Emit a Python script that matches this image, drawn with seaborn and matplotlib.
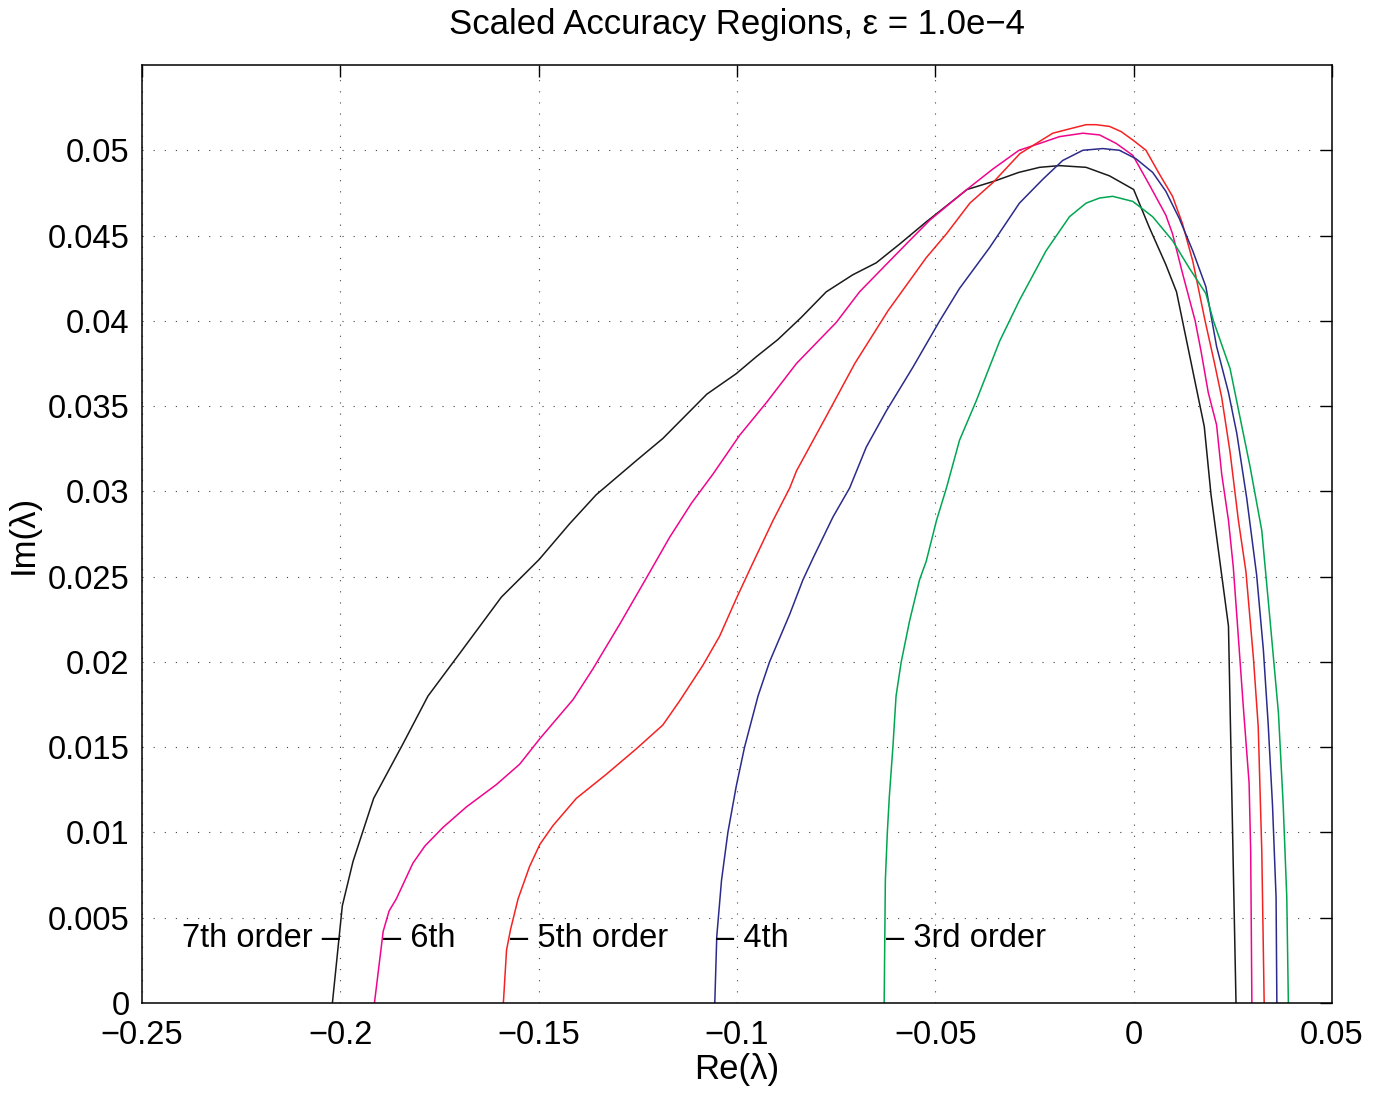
import numpy as np
import pandas as pd
import matplotlib
matplotlib.use("Agg")
import matplotlib.pyplot as plt
import seaborn as sns

# ---------------- data ----------------
x7 = [-0.2020, -0.1995, -0.1968, -0.1916, -0.1842, -0.1779, -0.1699, -0.1594, -0.1499,
      -0.1422, -0.1355, -0.1254, -0.1187, -0.1076, -0.1002, -0.0951, -0.0897, -0.0838,
      -0.0775, -0.0708, -0.0649, -0.0590, -0.0523, -0.0420, -0.0350, -0.0290, -0.0237,
      -0.0187, -0.0120, -0.0061, 0.0000, 0.0039, 0.0081, 0.0108, 0.0178, 0.0195, 0.0239,
      0.0258]
y7 = [0.0, 0.0057, 0.0083, 0.0120, 0.0152, 0.0180, 0.0205, 0.0238, 0.0260,
      0.0281, 0.0298, 0.0318, 0.0331, 0.0357, 0.0369, 0.0379, 0.0389, 0.0402,
      0.0417, 0.0427, 0.0434, 0.0445, 0.0458, 0.0477, 0.0482, 0.0487, 0.0490,
      0.0491, 0.0490, 0.0485, 0.0477, 0.0455, 0.0433, 0.0417, 0.0338, 0.0298, 0.0221,
      0.0]

x6 = [-0.1914, -0.1892, -0.1877, -0.1859, -0.1817, -0.1787, -0.1741, -0.1682, -0.1607,
      -0.1548, -0.1497, -0.1413, -0.1363, -0.1296, -0.1224, -0.1170, -0.1115, -0.1061,
      -0.0993, -0.0926, -0.0850, -0.0750, -0.0691, -0.0624, -0.0565, -0.0514, -0.0426,
      -0.0355, -0.0289, -0.0237, -0.0187, -0.0128, -0.0086, -0.0044, -0.0002, 0.0039,
      0.0081, 0.0098, 0.0123, 0.0155, 0.0170, 0.0188, 0.0209, 0.0222, 0.0239, 0.0251,
      0.0261, 0.0276, 0.0291, 0.0295, 0.0298]
y6 = [0.0, 0.0042, 0.0054, 0.0061, 0.0082, 0.0092, 0.0103, 0.0115, 0.0128,
      0.0140, 0.0155, 0.0178, 0.0196, 0.0222, 0.0251, 0.0273, 0.0293, 0.0310,
      0.0333, 0.0352, 0.0375, 0.0399, 0.0417, 0.0433, 0.0447, 0.0459, 0.0476,
      0.0489, 0.0500, 0.0504, 0.0508, 0.0510, 0.0509, 0.0504, 0.0497, 0.0480,
      0.0462, 0.0451, 0.0428, 0.0400, 0.0382, 0.0358, 0.0339, 0.0310, 0.0283, 0.0256,
      0.0224, 0.0175, 0.0129, 0.0089, 0.0]

x5 = [-0.1589, -0.1581, -0.1571, -0.1552, -0.1523, -0.1497, -0.1464, -0.1405, -0.1330,
      -0.1254, -0.1187, -0.1145, -0.1086, -0.1044, -0.1002, -0.0960, -0.0909, -0.0867,
      -0.0850, -0.0775, -0.0703, -0.0619, -0.0523, -0.0472, -0.0413, -0.0355, -0.0287,
      -0.0204, -0.0154, -0.0120, -0.0095, -0.0061, -0.0032, -0.0002, 0.0031, 0.0065,
      0.0098, 0.0123, 0.0149, 0.0180, 0.0203, 0.0222, 0.0243, 0.0264, 0.0283, 0.0302,
      0.0314, 0.0323, 0.0329]
y5 = [0.0, 0.0031, 0.0043, 0.0061, 0.0080, 0.0093, 0.0104, 0.0120, 0.0134,
      0.0149, 0.0163, 0.0177, 0.0198, 0.0215, 0.0237, 0.0258, 0.0283, 0.0302,
      0.0312, 0.0344, 0.0375, 0.0406, 0.0437, 0.0451, 0.0469, 0.0481, 0.0498,
      0.0510, 0.0513, 0.0515, 0.0515, 0.0514, 0.0511, 0.0506, 0.0500, 0.0486,
      0.0473, 0.0457, 0.0435, 0.0400, 0.0376, 0.0355, 0.0323, 0.0283, 0.0253, 0.0202,
      0.0162, 0.0089, 0.0]

x4 = [-0.1056, -0.1051, -0.1039, -0.1023, -0.1002, -0.0981, -0.0947, -0.0918, -0.0867,
      -0.0834, -0.0808, -0.0758, -0.0716, -0.0674, -0.0624, -0.0556, -0.0489, -0.0439,
      -0.0363, -0.0288, -0.0229, -0.0179, -0.0128, -0.0078, -0.0036, 0.0006, 0.0048,
      0.0081, 0.0115, 0.0149, 0.0182, 0.0209, 0.0239, 0.0260, 0.0285, 0.0310, 0.0327,
      0.0339, 0.0350, 0.0359, 0.0361]
y4 = [0.0, 0.0039, 0.0072, 0.0100, 0.0127, 0.0150, 0.0180, 0.0200, 0.0228,
      0.0248, 0.0261, 0.0285, 0.0302, 0.0326, 0.0347, 0.0373, 0.0400, 0.0419,
      0.0443, 0.0469, 0.0483, 0.0494, 0.0500, 0.0501, 0.0500, 0.0495, 0.0487,
      0.0476, 0.0460, 0.0441, 0.0420, 0.0385, 0.0358, 0.0334, 0.0296, 0.0251, 0.0207,
      0.0164, 0.0116, 0.0062, 0.0]

x3 = [-0.0629, -0.0626, -0.0621, -0.0616, -0.0607, -0.0599, -0.0586, -0.0565, -0.0540,
      -0.0523, -0.0497, -0.0472, -0.0439, -0.0397, -0.0338, -0.0288, -0.0221, -0.0162,
      -0.0120, -0.0086, -0.0053, -0.0002, 0.0048, 0.0098, 0.0140, 0.0182, 0.0201,
      0.0243, 0.0293, 0.0323, 0.0344, 0.0365, 0.0377, 0.0386, 0.0390]
y3 = [0.0, 0.0072, 0.0100, 0.0121, 0.0150, 0.0180, 0.0200, 0.0224, 0.0248,
      0.0259, 0.0283, 0.0302, 0.0330, 0.0353, 0.0388, 0.0412, 0.0441, 0.0461,
      0.0469, 0.0472, 0.0473, 0.0470, 0.0461, 0.0447, 0.0431, 0.0416, 0.0400,
      0.0372, 0.0315, 0.0277, 0.0224, 0.0170, 0.0116, 0.0062, 0.0]

orders = ["7th", "6th", "5th", "4th", "3rd"]
label_texts = ["7th order \u2013", "\u2013 6th", "\u2013 5th order", "\u2013 4th", "\u2013 3rd order"]
label_x = [-0.2002, -0.1892, -0.1572, -0.1053, -0.0624]
label_y = [0.0038, 0.0038, 0.0038, 0.0038, 0.0038]
colors = ["#1a1a1a", "#f0058c", "#f52222", "#2b2b8c", "#00a651"]

xticks = [-0.25, -0.2, -0.15, -0.1, -0.05, 0, 0.05]
xticklabels = ["\u22120.25", "\u22120.2", "\u22120.15", "\u22120.1", "\u22120.05", "0", "0.05"]
yticks = [0, 0.005, 0.01, 0.015, 0.02, 0.025, 0.03, 0.035, 0.04, 0.045, 0.05]
yticklabels = ["0", "0.005", "0.01", "0.015", "0.02", "0.025", "0.03", "0.035", "0.04", "0.045", "0.05"]

# ---------------- build frame ----------------
frames = []
for name, xs, ys in zip(orders, [x7, x6, x5, x4, x3], [y7, y6, y5, y4, y3]):
    frames.append(pd.DataFrame({"re": xs, "im": ys, "order": name,
                                "idx": np.arange(len(xs))}))
df = pd.concat(frames, ignore_index=True)

# ---------------- style ----------------
sns.set_theme(style="white")
plt.rcParams["font.family"] = ["Liberation Sans", "DejaVu Sans"]
plt.rcParams["axes.unicode_minus"] = True

fig = plt.figure(figsize=(13.86, 10.93), dpi=100)
ax = fig.add_axes([142 / 1386, 1 - 1003 / 1093, (1332 - 142) / 1386, (1003 - 65) / 1093])

sns.lineplot(data=df, x="re", y="im", hue="order", hue_order=orders,
             palette=dict(zip(orders, colors)), units="order", estimator=None,
             sort=False, legend=False, linewidth=1.1, ax=ax)

ax.set_xlim(-0.25, 0.05)
ax.set_ylim(0, 0.055)
ax.set_xticks(xticks)
ax.set_xticklabels(xticklabels)
ax.set_yticks(yticks)
ax.set_yticklabels(yticklabels)

ax.grid(True, color="#444444", linestyle=(0, (1, 9)), linewidth=0.8)
for s in ax.spines.values():
    s.set_visible(True)
    s.set_color("black")
    s.set_linewidth(1.1)

ax.tick_params(axis="both", which="major", direction="in", length=8.5, width=1.0,
               top=True, right=True, labelsize=23.5, colors="black")
ax.tick_params(axis="x", pad=12)
ax.tick_params(axis="y", pad=9)

for txt, lx, ly, c in zip(label_texts, label_x, label_y, colors):
    ha = "right" if txt.endswith("\u2013") else "left"
    ax.text(lx, ly, txt, ha=ha, va="center", fontsize=23.5, color="black")

ax.set_xlabel("Re(\u03bb)", fontsize=25, labelpad=2, color="black")
ax.set_ylabel("Im(\u03bb)", fontsize=25, labelpad=6, color="black")
ax.set_title("Scaled Accuracy Regions, \u03b5 = 1.0e\u22124", fontsize=25, pad=22, color="black")

fig.savefig("out.png", dpi=100, facecolor="white")
